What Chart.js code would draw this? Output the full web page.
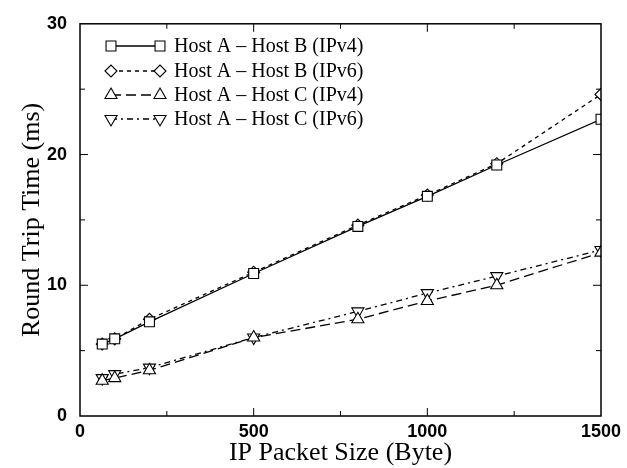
<!DOCTYPE html>
<html>
<head>
<meta charset="utf-8">
<script src="https://cdn.jsdelivr.net/npm/chart.js@4.4.0/dist/chart.umd.min.js"></script>
<style>
  html, body { margin: 0; padding: 0; background: #fff; }
  #wrap { width: 627px; height: 468px; }
</style>
</head>
<body>
<div id="wrap"><canvas id="rtt"></canvas></div>
<script>
// Packet sizes (x) and round trip times in ms
const packetSizes = [64, 100, 200, 500, 800, 1000, 1200, 1500];
const abIPv4 = [5.5, 5.9, 7.2, 10.9, 14.5, 16.8, 19.2, 22.7];
const abIPv6 = [5.5, 5.9, 7.4, 11.0, 14.6, 16.9, 19.3, 24.6];
const acIPv4 = [2.7, 2.9, 3.5, 6.0, 7.4, 8.8, 10.0, 12.5];
const acIPv6 = [2.9, 3.2, 3.7, 6.0, 8.0, 9.4, 10.7, 12.7];

const seriesLabels = [
    'Host A \u2013 Host B (IPv4)',
    'Host A \u2013 Host B (IPv6)',
    'Host A \u2013 Host C (IPv4)',
    'Host A \u2013 Host C (IPv6)'
];
const xTicks = [0, 500, 1000, 1500];
const yTicks = [0, 10, 20, 30];

const toPoints = (ys) => ys.map((y, i) => ({ x: packetSizes[i], y: y }));

const makeSet = (label, ys, style, radius, rotation, dash) => ({
    label: label,
    data: toPoints(ys),
    borderColor: '#000',
    borderWidth: 1.3,
    borderDash: dash,
    pointStyle: style,
    pointRadius: radius,
    pointRotation: rotation,
    pointBackgroundColor: '#fff',
    pointBorderColor: '#000',
    pointBorderWidth: 1.1,
    tension: 0
});

// Frame with inward ticks on all four sides
const framePlugin = {
    id: 'frame',
    afterDatasetsDraw(chart) {
        const { ctx, chartArea: a, scales: { x, y } } = chart;
        ctx.save();
        ctx.strokeStyle = '#000';
        ctx.lineWidth = 1.5;
        ctx.setLineDash([]);
        ctx.strokeRect(a.left, a.top, a.right - a.left, a.bottom - a.top);
        ctx.lineWidth = 1;
        ctx.beginPath();
        for (let v = 250; v < 1500; v += 250) {
            const px = x.getPixelForValue(v);
            const len = v % 500 === 0 ? 8 : 5;
            ctx.moveTo(px, a.bottom); ctx.lineTo(px, a.bottom - len);
            ctx.moveTo(px, a.top); ctx.lineTo(px, a.top + len);
        }
        for (let v = 5; v < 30; v += 5) {
            const py = y.getPixelForValue(v);
            const len = v % 10 === 0 ? 8 : 5;
            ctx.moveTo(a.left, py); ctx.lineTo(a.left + len, py);
            ctx.moveTo(a.right, py); ctx.lineTo(a.right - len, py);
        }
        ctx.stroke();
        ctx.restore();
    }
};

// Legend drawn as gnuplot does: marker, line, marker, then the label
const legendPlugin = {
    id: 'keyBox',
    afterDraw(chart) {
        const ctx = chart.ctx;
        const x1 = 111, x2 = 160, textX = 174;
        const rows = [46, 71, 95, 119];
        ctx.save();
        chart.data.datasets.forEach((ds, i) => {
            const yy = rows[i];
            ctx.strokeStyle = '#000';
            ctx.lineWidth = ds.borderWidth;
            ctx.setLineDash(ds.borderDash || []);
            ctx.beginPath();
            ctx.moveTo(x1, yy);
            ctx.lineTo(x2, yy);
            ctx.stroke();
            ctx.setLineDash([]);
            ctx.fillStyle = '#fff';
            ctx.lineWidth = ds.pointBorderWidth;
            const opts = { pointStyle: ds.pointStyle, radius: ds.pointRadius, rotation: ds.pointRotation, borderWidth: ds.pointBorderWidth };
            Chart.helpers.drawPoint(ctx, opts, x1, yy);
            Chart.helpers.drawPoint(ctx, opts, x2, yy);
            ctx.fillStyle = '#000';
            ctx.font = '20px "Liberation Serif"';
            ctx.textBaseline = 'middle';
            ctx.textAlign = 'left';
            ctx.fillText(ds.label, textX, yy + 1);
        });
        ctx.restore();
    }
};

new Chart(document.getElementById('rtt').getContext('2d'), {
    type: 'line',
    data: {
        datasets: [
            makeSet(seriesLabels[0], abIPv4, 'rect', 7, 0, []),
            makeSet(seriesLabels[1], abIPv6, 'rectRot', 6, 0, [4, 4]),
            makeSet(seriesLabels[2], acIPv4, 'triangle', 7, 0, [10, 5]),
            makeSet(seriesLabels[3], acIPv6, 'triangle', 7, 180, [6, 4, 2, 4])
        ]
    },
    options: {
        responsive: true,
        maintainAspectRatio: false,
        animation: false,
        layout: { padding: { top: 17, right: 26, bottom: 0, left: 0 } },
        plugins: {
            legend: { display: false },
            tooltip: { enabled: false }
        },
        scales: {
            x: {
                type: 'linear',
                min: 0,
                max: 1500,
                afterFit: (s) => { s.height = 52; },
                afterBuildTicks: (s) => { s.ticks = xTicks.map(v => ({ value: v })); },
                grid: { display: false, drawTicks: false },
                border: { display: false },
                ticks: {
                    color: '#000',
                    padding: 5,
                    maxRotation: 0,
                    callback: (v) => String(v),
                    font: { family: '"Liberation Sans"', size: 18, weight: 'bold' }
                },
                title: {
                    display: true,
                    text: 'IP Packet Size (Byte)',
                    color: '#000',
                    padding: { top: 0, bottom: -1 },
                    font: { family: '"Liberation Serif"', size: 26 }
                }
            },
            y: {
                min: 0,
                max: 30,
                afterFit: (s) => { s.width = 80; },
                afterBuildTicks: (s) => { s.ticks = yTicks.map(v => ({ value: v })); },
                grid: { display: false, drawTicks: false },
                border: { display: false },
                ticks: {
                    color: '#000',
                    padding: 13,
                    callback: (v) => String(v),
                    font: { family: '"Liberation Sans"', size: 18, weight: 'bold' }
                },
                title: {
                    display: true,
                    text: 'Round Trip Time (ms)',
                    color: '#000',
                    padding: { top: 17, bottom: 0 },
                    font: { family: '"Liberation Serif"', size: 26 }
                }
            }
        }
    },
    plugins: [framePlugin, legendPlugin]
});
</script>
</body>
</html>
